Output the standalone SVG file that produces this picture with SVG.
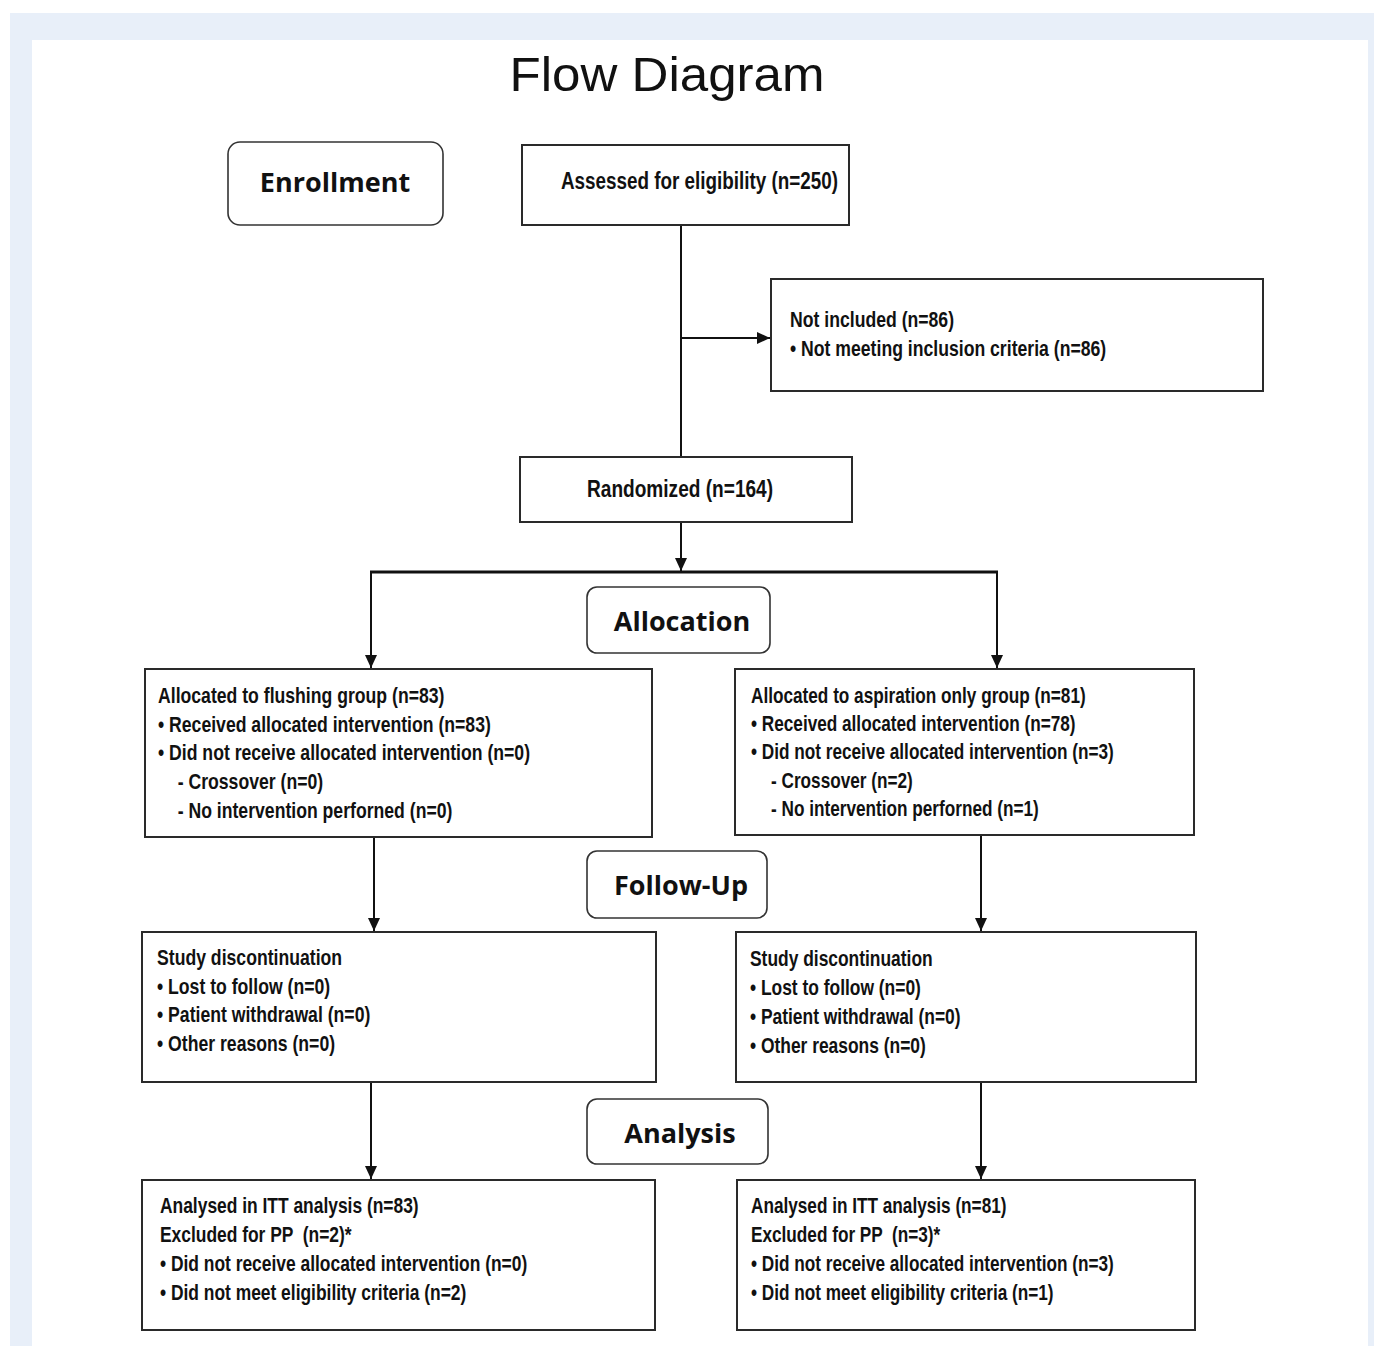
<svg xmlns="http://www.w3.org/2000/svg" width="1374" height="1346" viewBox="0 0 1374 1346">
<style>
.box{fill:#fff;stroke:#2a2a2a;stroke-width:2}
.lbl{fill:#fff;stroke:#333;stroke-width:1.6}
.t{font-family:"Liberation Sans",Arial,sans-serif;font-weight:bold;font-size:21.5px;fill:#111;white-space:pre}
.tb{font-family:"Liberation Sans",Arial,sans-serif;font-weight:bold;font-size:23px;fill:#111}
.h{font-family:"Open Sans","Noto Sans",sans-serif;font-weight:bold;font-size:27px;fill:#111;text-anchor:middle}
.ln{stroke:#111;stroke-width:2;fill:none}
</style>
<defs>
<marker id="ah" viewBox="0 0 10 10" refX="10" refY="5" markerWidth="6.5" markerHeight="6" markerUnits="strokeWidth" orient="auto" preserveAspectRatio="none">
<path d="M0,0 L10,5 L0,10 z" fill="#111"/>
</marker>
</defs>
<rect x="10" y="13" width="1364" height="1333" fill="#e8eff9"/>
<rect x="32" y="40" width="1336" height="1306" fill="#fff"/>
<text x="667" y="91" font-family="'Liberation Sans',Arial,sans-serif" font-size="48" text-anchor="middle" fill="#111" textLength="315" lengthAdjust="spacingAndGlyphs">Flow Diagram</text>

<g id="connectors">
<line class="ln" x1="681" y1="225" x2="681" y2="457"/>
<line class="ln" x1="681" y1="338" x2="770" y2="338" marker-end="url(#ah)"/>
<line class="ln" x1="681" y1="522" x2="681" y2="571" marker-end="url(#ah)"/>
<line x1="370" y1="572" x2="998" y2="572" stroke="#111" stroke-width="3"/>
<line class="ln" x1="371" y1="571" x2="371" y2="668" marker-end="url(#ah)"/>
<line class="ln" x1="997" y1="571" x2="997" y2="668" marker-end="url(#ah)"/>
<line class="ln" x1="374" y1="837" x2="374" y2="931" marker-end="url(#ah)"/>
<line class="ln" x1="981" y1="835" x2="981" y2="931" marker-end="url(#ah)"/>
<line class="ln" x1="371" y1="1082" x2="371" y2="1179" marker-end="url(#ah)"/>
<line class="ln" x1="981" y1="1082" x2="981" y2="1179" marker-end="url(#ah)"/>
</g>

<g id="enrollment">
<rect class="lbl" x="228" y="142" width="215" height="83" rx="12"/>
<text class="h" x="335" y="192">Enrollment</text>
</g>
<g id="assessed">
<rect class="box" x="522" y="145" width="327" height="80"/>
<g transform="translate(561 0) scale(0.82 1)"><text class="tb" x="0" y="189">Assessed for eligibility (n=250)</text></g>
</g>
<g id="not-included">
<rect class="box" x="771" y="279" width="492" height="112"/>
<g transform="translate(790 0) scale(0.82 1)">
<text class="t" x="0" y="327">Not included (n=86)</text>
<text class="t" x="0" y="356">• Not meeting inclusion criteria (n=86)</text>
</g>
</g>
<g id="randomized">
<rect class="box" x="520" y="457" width="332" height="65"/>
<g transform="translate(587 0) scale(0.83 1)"><text class="tb" x="0" y="497">Randomized (n=164)</text></g>
</g>
<g id="allocation">
<rect class="lbl" x="587" y="587" width="183" height="66" rx="10"/>
<text class="h" x="682" y="631">Allocation</text>
</g>
<g id="alloc-flushing">
<rect class="box" x="145" y="669" width="507" height="168"/>
<g transform="translate(158 0) scale(0.82 1)">
<text class="t" x="0" y="703">Allocated to flushing group (n=83)</text>
<text class="t" x="0" y="732">• Received allocated intervention (n=83)</text>
<text class="t" x="0" y="760">• Did not receive allocated intervention (n=0)</text>
<text class="t" x="24" y="789">- Crossover (n=0)</text>
<text class="t" x="24" y="818">- No intervention perforned (n=0)</text>
</g>
</g>
<g id="alloc-aspiration">
<rect class="box" x="735" y="669" width="459" height="166"/>
<g transform="translate(751 0) scale(0.8 1)">
<text class="t" x="0" y="703">Allocated to aspiration only group (n=81)</text>
<text class="t" x="0" y="731">• Received allocated intervention (n=78)</text>
<text class="t" x="0" y="759">• Did not receive allocated intervention (n=3)</text>
<text class="t" x="25" y="788">- Crossover (n=2)</text>
<text class="t" x="25" y="816">- No intervention perforned (n=1)</text>
</g>
</g>
<g id="follow-up">
<rect class="lbl" x="587" y="851" width="180" height="67" rx="10"/>
<text class="h" x="681" y="895">Follow-Up</text>
</g>
<g id="study-left">
<rect class="box" x="142" y="932" width="514" height="150"/>
<g transform="translate(157 0) scale(0.82 1)">
<text class="t" x="0" y="965">Study discontinuation</text>
<text class="t" x="0" y="994">• Lost to follow (n=0)</text>
<text class="t" x="0" y="1022">• Patient withdrawal (n=0)</text>
<text class="t" x="0" y="1051">• Other reasons (n=0)</text>
</g>
</g>
<g id="study-right">
<rect class="box" x="736" y="932" width="460" height="150"/>
<g transform="translate(750 0) scale(0.81 1)">
<text class="t" x="0" y="966">Study discontinuation</text>
<text class="t" x="0" y="995">• Lost to follow (n=0)</text>
<text class="t" x="0" y="1024">• Patient withdrawal (n=0)</text>
<text class="t" x="0" y="1053">• Other reasons (n=0)</text>
</g>
</g>
<g id="analysis">
<rect class="lbl" x="587" y="1099" width="181" height="65" rx="10"/>
<text class="h" x="680" y="1143">Analysis</text>
</g>
<g id="analysis-left">
<rect class="box" x="142" y="1180" width="513" height="150"/>
<g transform="translate(160 0) scale(0.81 1)">
<text class="t" x="0" y="1213">Analysed in ITT analysis (n=83)</text>
<text class="t" x="0" y="1242">Excluded for PP  (n=2)*</text>
<text class="t" x="0" y="1271">• Did not receive allocated intervention (n=0)</text>
<text class="t" x="0" y="1300">• Did not meet eligibility criteria (n=2)</text>
</g>
</g>
<g id="analysis-right">
<rect class="box" x="737" y="1180" width="458" height="150"/>
<g transform="translate(751 0) scale(0.8 1)">
<text class="t" x="0" y="1213">Analysed in ITT analysis (n=81)</text>
<text class="t" x="0" y="1242">Excluded for PP  (n=3)*</text>
<text class="t" x="0" y="1271">• Did not receive allocated intervention (n=3)</text>
<text class="t" x="0" y="1300">• Did not meet eligibility criteria (n=1)</text>
</g>
</g>
</svg>
